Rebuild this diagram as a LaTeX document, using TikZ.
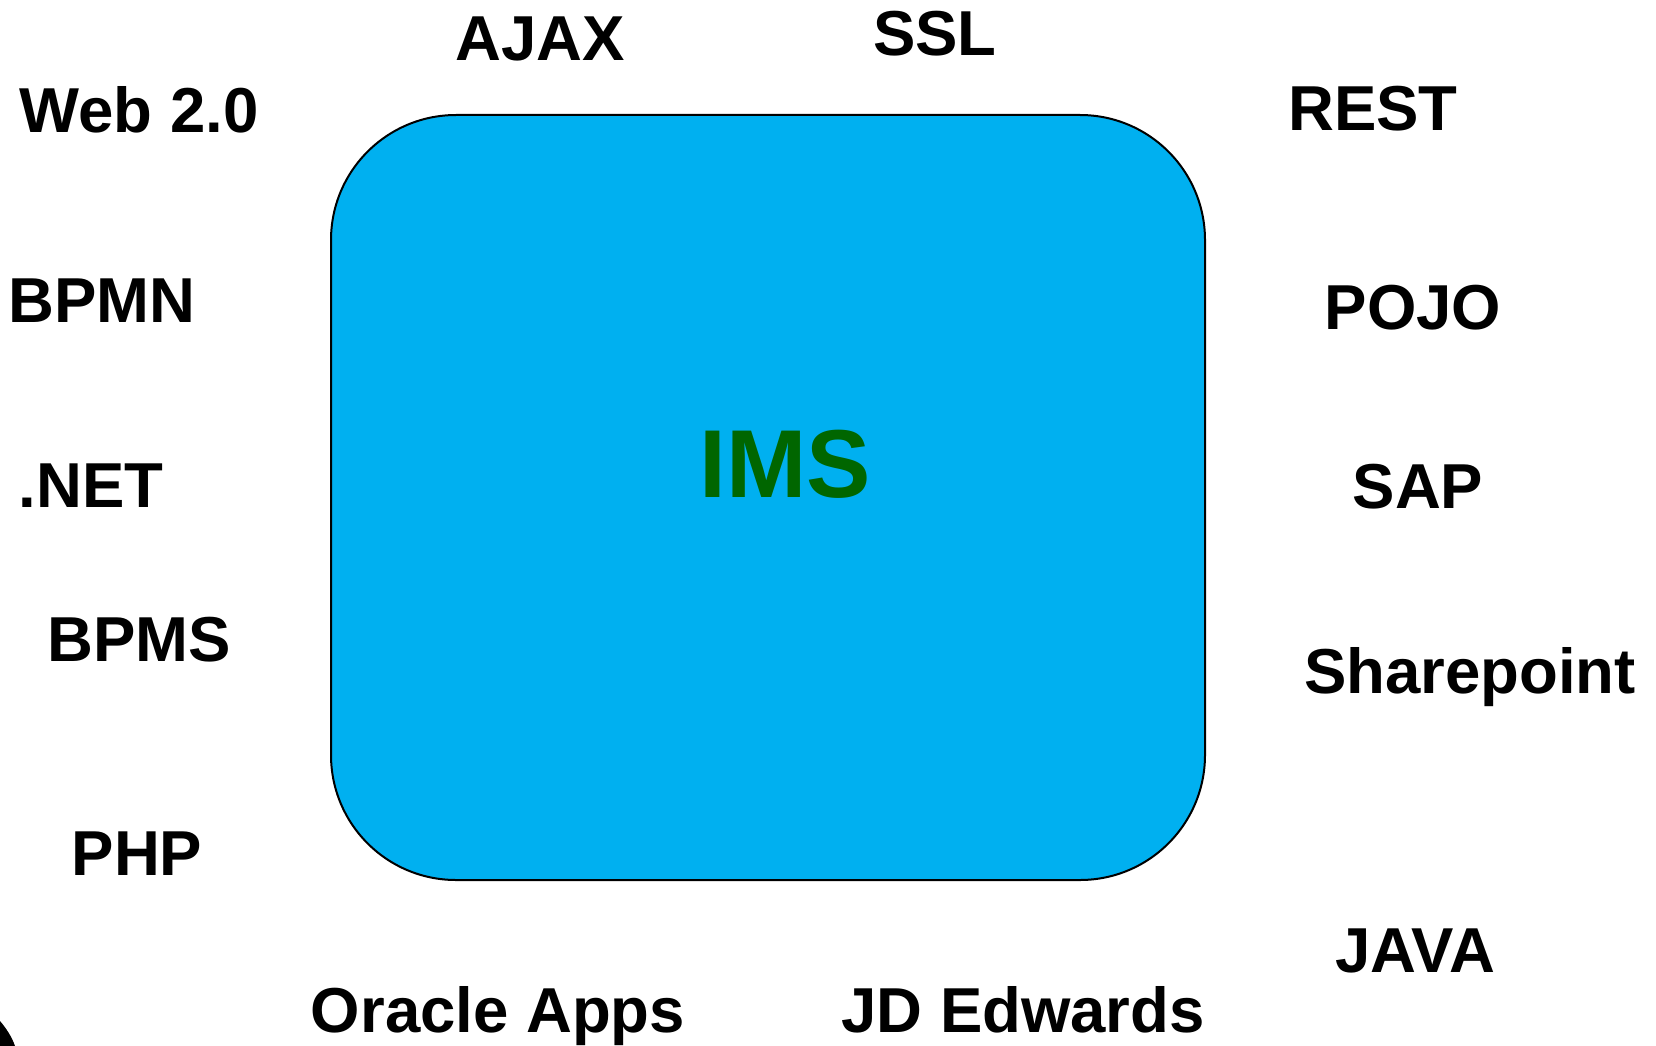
\documentclass[tikz,border=0pt]{standalone}
\usepackage{fontspec}
\setmainfont{Liberation Sans}
\definecolor{boxblue}{HTML}{00B0F0}
\definecolor{imsgreen}{HTML}{006600}
\tikzset{lbl/.style={font=\fontsize{63.5}{68}\selectfont\bfseries,text=black,inner sep=0pt}}
\begin{document}
\begin{tikzpicture}[x=1pt,y=-1pt]
\useasboundingbox (0,0) rectangle (1656,1046);
\fill[black] (0,1021) .. controls (6,1028) and (12,1037) .. (15,1046) -- (0,1046) -- cycle;
\draw[fill=boxblue,draw=black,line width=2pt,rounded corners=125pt] (331,115) rectangle (1205,880);
\node[font=\fontsize{96.5}{100}\selectfont\bfseries,text=imsgreen,inner sep=0pt] (ims) at (785,464) {IMS};
\node[lbl] (a) at (540,39) {AJAX};
\node[lbl] (b) at (935,34) {SSL};
\node[lbl] (c) at (139,110) {Web 2.0};
\node[lbl] (d) at (1373,109) {REST};
\node[lbl] (e) at (102,301) {BPMN};
\node[lbl] (f) at (1413,308) {POJO};
\node[lbl] (g) at (91,486) {.NET};
\node[lbl] (h) at (1418,487) {SAP};
\node[lbl] (i) at (139,640) {BPMS};
\node[lbl] (j) at (1470,677) {Sharepoint};
\node[lbl] (k) at (137,854) {PHP};
\node[lbl] (l) at (1415,951) {JAVA};
\node[lbl] (m) at (498,1016) {Oracle Apps};
\node[lbl] (n) at (1023,1010) {JD Edwards};
\end{tikzpicture}
\end{document}
